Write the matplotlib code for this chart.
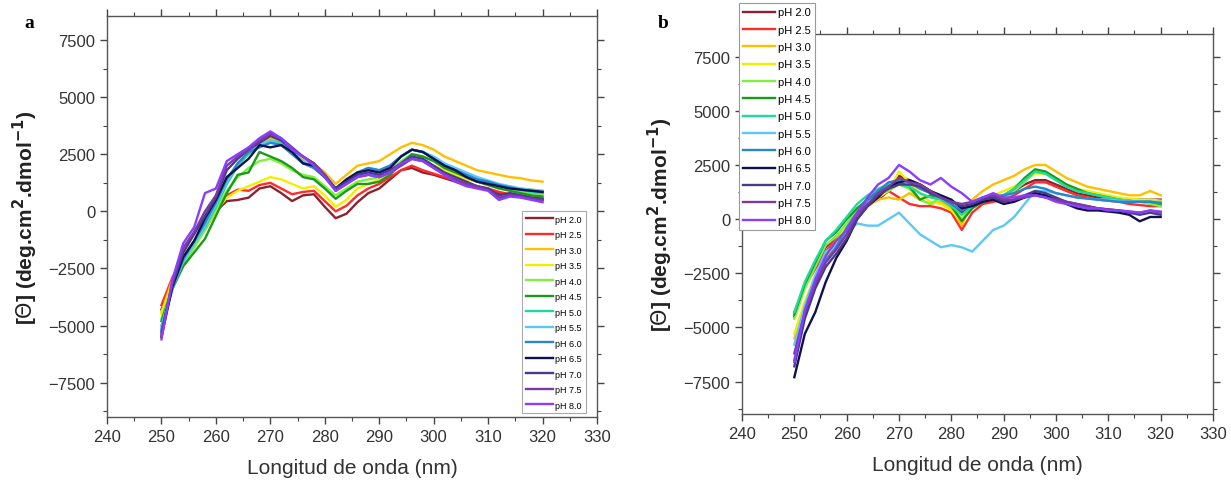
import matplotlib
matplotlib.use("Agg")
import matplotlib.pyplot as plt
from matplotlib.ticker import MultipleLocator

plt.rcParams['font.family'] = ['Liberation Sans', 'DejaVu Sans']

wavelength = [250, 252, 254, 256, 258, 260, 262, 264, 266, 268, 270, 272, 274, 276, 278, 280, 282, 284,
              286, 288, 290, 292, 294, 296, 298, 300, 302, 304, 306, 308, 310, 312, 314, 316, 318, 320]

ph_labels = ["pH 2.0", "pH 2.5", "pH 3.0", "pH 3.5", "pH 4.0", "pH 4.5", "pH 5.0",
             "pH 5.5", "pH 6.0", "pH 6.5", "pH 7.0", "pH 7.5", "pH 8.0"]

colors = ["#8c2230", "#ff2a2a", "#ffbf00", "#f2ee00", "#80f040", "#1a9a1a", "#20d8a0",
          "#5bc8f5", "#2a85d0", "#101050", "#4a3a8a", "#7a3aa0", "#8a3cff"]

# Panel a
a_ph20 = [-4300, -3000, -2100, -1400, -800, 0, 450, 500, 600, 1000, 1100, 800, 450, 700, 750, 200, -300, -100,
          400, 800, 1000, 1400, 1800, 1900, 1700, 1600, 1450, 1300, 1150, 1050, 950, 800, 700, 650, 550, 500]
a_ph25 = [-4100, -2900, -2000, -1300, -700, 0, 700, 950, 900, 1150, 1250, 1000, 750, 850, 900, 450, 0, 250,
          700, 1000, 1200, 1500, 1800, 2000, 1800, 1650, 1500, 1350, 1200, 1100, 1000, 850, 750, 700, 600, 550]
a_ph30 = [-4400, -3000, -2000, -1300, -600, 200, 1200, 2000, 2600, 3000, 3200, 3000, 2700, 2300, 2100, 1700, 1200, 1600,
          2000, 2100, 2200, 2500, 2800, 3000, 2900, 2700, 2400, 2200, 2000, 1800, 1700, 1600, 1500, 1450, 1350, 1300]
a_ph35 = [-4500, -3100, -2200, -1500, -800, 0, 600, 900, 1100, 1300, 1500, 1400, 1200, 1000, 1100, 700, 200, 500,
          1000, 1200, 1400, 1700, 2000, 2300, 2200, 2000, 1800, 1600, 1400, 1300, 1200, 1100, 1050, 1000, 950, 900]
a_ph40 = [-4700, -3300, -2300, -1600, -800, 100, 900, 1500, 1900, 2200, 2300, 2100, 1800, 1600, 1500, 1100, 700, 1000,
          1300, 1400, 1500, 1800, 2200, 2500, 2400, 2200, 1900, 1700, 1500, 1300, 1200, 1100, 1000, 900, 800, 750]
a_ph45 = [-4800, -3400, -2400, -1800, -1200, -200, 800, 1600, 1700, 2600, 2400, 2200, 1900, 1500, 1400, 1000, 550, 900,
          1200, 1200, 1300, 1600, 2100, 2500, 2400, 2200, 1900, 1700, 1500, 1300, 1150, 1000, 900, 800, 700, 650]
a_ph50 = [-5000, -3300, -2200, -1400, -700, 200, 1200, 2000, 2500, 2900, 3100, 3000, 2600, 2200, 1900, 1500, 900, 1300,
          1600, 1800, 1700, 2000, 2400, 2700, 2600, 2300, 2000, 1800, 1600, 1400, 1300, 1150, 1050, 950, 850, 800]
a_ph55 = [-5100, -3400, -2200, -1400, -600, 300, 1300, 2100, 2600, 2900, 3100, 2900, 2600, 2200, 1900, 1500, 1000, 1300,
          1700, 1900, 1800, 2000, 2400, 2700, 2600, 2400, 2100, 1900, 1700, 1500, 1350, 1200, 1100, 1000, 950, 900]
a_ph60 = [-5200, -3400, -2100, -1300, -500, 400, 1400, 2100, 2600, 2800, 3000, 2900, 2500, 2100, 1900, 1500, 1000, 1400,
          1700, 1900, 1800, 2000, 2400, 2700, 2600, 2300, 2000, 1800, 1600, 1400, 1300, 1150, 1050, 950, 900, 850]
a_ph65 = [-5500, -3300, -2000, -1300, -300, 500, 1500, 1900, 2300, 2900, 2800, 2900, 2600, 2100, 2000, 1500, 1000, 1400,
          1700, 1800, 1700, 1900, 2400, 2700, 2600, 2300, 2000, 1800, 1500, 1300, 1200, 1100, 1000, 950, 900, 850]
a_ph70 = [-5300, -3200, -1800, -1000, -200, 600, 1800, 2300, 2700, 3000, 3300, 3100, 2700, 2400, 2100, 1600, 1000, 1300,
          1600, 1700, 1600, 1800, 2100, 2400, 2300, 2000, 1700, 1500, 1300, 1100, 1000, 700, 800, 700, 600, 550]
a_ph75 = [-5400, -3100, -1600, -900, 0, 700, 2000, 2400, 2700, 3100, 3400, 3200, 2800, 2400, 2100, 1600, 900, 1200,
          1500, 1600, 1500, 1700, 2000, 2300, 2200, 1900, 1600, 1400, 1200, 1100, 950, 600, 700, 650, 550, 500]
a_ph80 = [-5600, -3000, -1400, -700, 800, 1000, 2200, 2500, 2800, 3200, 3500, 3200, 2700, 2400, 2000, 1500, 900, 1200,
          1500, 1600, 1500, 1700, 2100, 2300, 2200, 1900, 1600, 1300, 1100, 1000, 900, 500, 650, 600, 500, 400]

# Panel b
b_ph20 = [-4500, -3000, -2200, -1300, -800, -300, 300, 700, 900, 1300, 2000, 1800, 1600, 1300, 1000, 700, 300, 600,
          900, 1000, 1100, 1300, 1600, 1800, 1800, 1600, 1400, 1200, 1100, 1000, 1000, 950, 900, 900, 900, 900]
b_ph25 = [-4300, -3100, -2300, -1500, -900, -300, 300, 700, 1000, 1300, 1000, 700, 600, 600, 500, 300, -500, 300,
          700, 800, 900, 1100, 1400, 1700, 1700, 1500, 1300, 1100, 1000, 900, 850, 800, 700, 650, 600, 600]
b_ph30 = [-5500, -4000, -2700, -1800, -1100, -400, 200, 600, 900, 1000, 900, 1200, 900, 700, 800, 500, -300, 900,
          1300, 1600, 1800, 2000, 2300, 2500, 2500, 2200, 1900, 1700, 1500, 1400, 1300, 1200, 1100, 1100, 1300, 1100]
b_ph35 = [-5300, -3800, -2600, -1700, -1000, -300, 200, 700, 1000, 1300, 2200, 1700, 1200, 800, 700, 400, -100, 700,
          900, 1100, 1300, 1500, 1800, 2100, 2100, 1900, 1600, 1400, 1300, 1200, 1100, 1000, 950, 900, 900, 850]
b_ph40 = [-4600, -3200, -2200, -1200, -800, -200, 500, 900, 1200, 1300, 1600, 1400, 900, 700, 1000, 600, 0, 600,
          900, 900, 1000, 1300, 1700, 2200, 2100, 1800, 1500, 1300, 1200, 1100, 1000, 900, 850, 800, 700, 600]
b_ph45 = [-4400, -3000, -2000, -1000, -600, 0, 500, 900, 1300, 1500, 1700, 1500, 900, 1100, 1000, 600, -100, 500,
          800, 900, 1100, 1400, 1900, 2300, 2200, 1900, 1600, 1400, 1200, 1100, 1000, 900, 800, 800, 800, 700]
b_ph50 = [-4300, -2900, -1900, -1000, -500, 100, 700, 1100, 1400, 1600, 1600, 1500, 1200, 1000, 900, 600, 200, 600,
          900, 1000, 1100, 1400, 1800, 2200, 2100, 1800, 1500, 1300, 1200, 1100, 1000, 900, 850, 800, 800, 750]
b_ph55 = [-5800, -4000, -2600, -1500, -1200, -600, -200, -300, -300, 0, 300, -200, -700, -1000, -1300, -1200, -1300, -1500,
          -1000, -500, -300, 100, 700, 1300, 1300, 1200, 1100, 1000, 950, 900, 900, 850, 850, 800, 800, 800]
b_ph60 = [-6500, -4500, -3000, -1900, -1300, -400, 300, 900, 1300, 1700, 1800, 1700, 1400, 1200, 1000, 700, 400, 700,
          1000, 1000, 1100, 1200, 1400, 1500, 1400, 1200, 1100, 1000, 950, 900, 850, 800, 800, 800, 800, 750]
b_ph65 = [-7300, -5300, -4300, -2900, -1800, -1000, 0, 600, 1000, 1500, 1700, 1800, 1600, 1300, 1100, 900, 500, 600,
          800, 900, 700, 800, 1000, 1200, 1100, 900, 700, 500, 400, 400, 350, 300, 200, -100, 100, 100]
b_ph70 = [-6800, -4600, -3200, -2200, -1600, -900, 0, 600, 1100, 1400, 1600, 1600, 1500, 1200, 1000, 800, 600, 700,
          900, 1000, 800, 900, 1100, 1300, 1200, 1000, 800, 700, 600, 500, 450, 400, 300, 200, 300, 200]
b_ph75 = [-6200, -4300, -3000, -2000, -1400, -700, 200, 700, 1200, 1500, 1900, 1700, 1600, 1300, 1000, 800, 700, 800,
          1000, 1100, 900, 900, 1000, 1100, 1000, 900, 800, 700, 600, 500, 450, 400, 350, 300, 400, 300]
b_ph80 = [-6600, -4200, -2800, -1700, -1000, -500, 300, 1000, 1600, 1900, 2500, 2200, 1800, 1600, 1900, 1500, 1200, 800,
          1000, 1200, 1000, 1000, 1100, 1100, 1000, 800, 700, 600, 500, 500, 400, 400, 350, 300, 400, 350]

panel_a = [a_ph20, a_ph25, a_ph30, a_ph35, a_ph40, a_ph45, a_ph50, a_ph55, a_ph60, a_ph65, a_ph70, a_ph75, a_ph80]
panel_b = [b_ph20, b_ph25, b_ph30, b_ph35, b_ph40, b_ph45, b_ph50, b_ph55, b_ph60, b_ph65, b_ph70, b_ph75, b_ph80]

W, H = 1231, 485
fig = plt.figure(figsize=(W / 100, H / 100), dpi=100)

def fx(px):
    return px / W

def fy(py):
    return 1 - py / H

ax_a = fig.add_axes([fx(107), fy(418), fx(597) - fx(107), fy(17) - fy(418)])
ax_b = fig.add_axes([fx(742), fy(415), fx(1213) - fx(742), fy(35) - fy(415)])

ylabel = r"[$\Theta$] (deg.cm$^{\mathbf{2}}$.dmol$^{\mathbf{-1}}$)"

for ax, data in ((ax_a, panel_a), (ax_b, panel_b)):
    for vals, c, lab in zip(data, colors, ph_labels):
        ax.plot(wavelength, vals, color=c, lw=1.7, label=lab)
    ax.set_xlim(240, 330)
    ax.set_ylim(-9000, 8550)
    ax.xaxis.set_major_locator(MultipleLocator(10))
    ax.xaxis.set_minor_locator(MultipleLocator(5))
    ax.yaxis.set_major_locator(MultipleLocator(2500))
    ax.yaxis.set_minor_locator(MultipleLocator(1250))
    ax.tick_params(which='both', direction='out', colors='#444444', labelcolor='#333333',
                   labelsize=12, top=True, right=True)
    ax.tick_params(which='major', length=5, width=1)
    ax.tick_params(which='minor', length=3, width=0.8)
    for s in ax.spines.values():
        s.set_color('#555555')
        s.set_linewidth(1.0)
    ax.set_xlabel("Longitud de onda (nm)", fontsize=15, color='#333333', labelpad=10)
    ax.set_ylabel(ylabel, fontsize=15, fontweight='bold', color='#222222', labelpad=6)

leg_a = ax_a.legend(loc='upper left', bbox_to_anchor=(fx(522), fy(212)), bbox_transform=fig.transFigure,
                    fontsize=6.5, labelspacing=0.72, handlelength=3.0, handletextpad=0.3,
                    borderpad=0.4, frameon=True, fancybox=False, framealpha=1, borderaxespad=0)
leg_a.get_frame().set_edgecolor('#aaaaaa')
leg_a.get_frame().set_linewidth(0.8)

leg_b = ax_b.legend(loc='upper left', bbox_to_anchor=(fx(739), fy(4)), bbox_transform=fig.transFigure,
                    fontsize=8, labelspacing=0.66, handlelength=2.8, handletextpad=0.3,
                    borderpad=0.4, frameon=True, fancybox=False, framealpha=1, borderaxespad=0)
leg_b.get_frame().set_edgecolor('#999999')
leg_b.get_frame().set_linewidth(0.8)

fig.text(fx(24), fy(28), "a", fontsize=14, fontweight='bold', family='Liberation Serif')
fig.text(fx(658), fy(28), "b", fontsize=14, fontweight='bold', family='Liberation Serif')

fig.savefig("out.png", dpi=100)
